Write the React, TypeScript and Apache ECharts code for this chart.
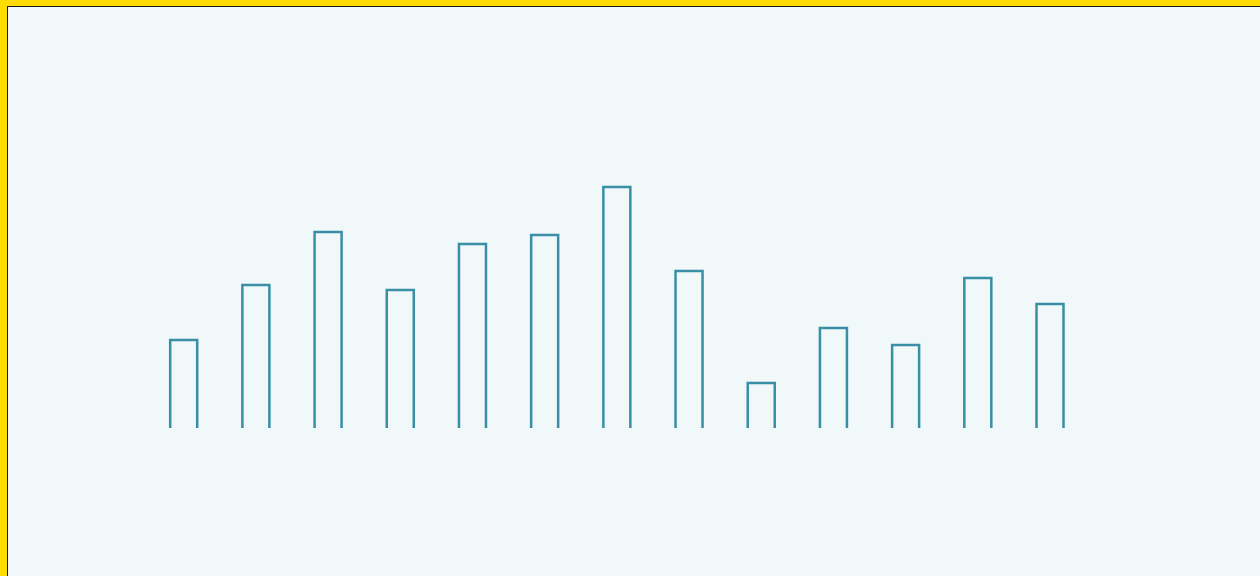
import React, { useEffect, useRef } from "react";
import * as echarts from "echarts";

const categories = ["1", "2", "3", "4", "5", "6", "7", "8", "9", "10", "11", "12", "13"];
const values = [88, 143, 196, 138, 184, 193, 241, 157, 45, 100, 83, 150, 124];

const BG = "#F0F8FA";
const STROKE = "#3A8FA7";

export default function App() {
  const ref = useRef<HTMLDivElement>(null);
  useEffect(() => {
    if (!ref.current) return;
    const chart = echarts.init(ref.current, undefined, { renderer: "svg" });
    chart.setOption({
      animation: false,
      backgroundColor: "transparent",
      grid: { left: 139.6, right: 181.9, top: 121, bottom: 155 },
      xAxis: {
        type: "category",
        data: categories,
        show: false,
      },
      yAxis: {
        type: "value",
        min: 0,
        max: 300,
        show: false,
      },
      series: [
        {
          type: "custom",
          data: values.map((v, i) => [i, v]),
          encode: { x: 0, y: 1 },
          renderItem: (params: any, api: any) => {
            const top = api.coord([api.value(0), api.value(1)]);
            const base = api.coord([api.value(0), 0]);
            const half = 13.5;
            return {
              type: "polyline",
              shape: {
                points: [
                  [top[0] - half, base[1]],
                  [top[0] - half, top[1]],
                  [top[0] + half, top[1]],
                  [top[0] + half, base[1]],
                ],
              },
              style: { fill: "none", stroke: STROKE, lineWidth: 2.5, lineJoin: "miter" },
            };
          },
        },
      ],
    });
    return () => chart.dispose();
  }, []);
  return (
    <div style={{ position: "fixed", inset: 0, background: "#FFDD00", overflow: "hidden" }}>
      <div
        style={{
          position: "absolute",
          left: 7,
          top: 6,
          width: 1260,
          height: 576,
          border: "1px solid #1a1a1a",
          background: BG,
        }}
      >
        <div ref={ref} style={{ width: 1260, height: 576 }} />
      </div>
    </div>
  );
}
